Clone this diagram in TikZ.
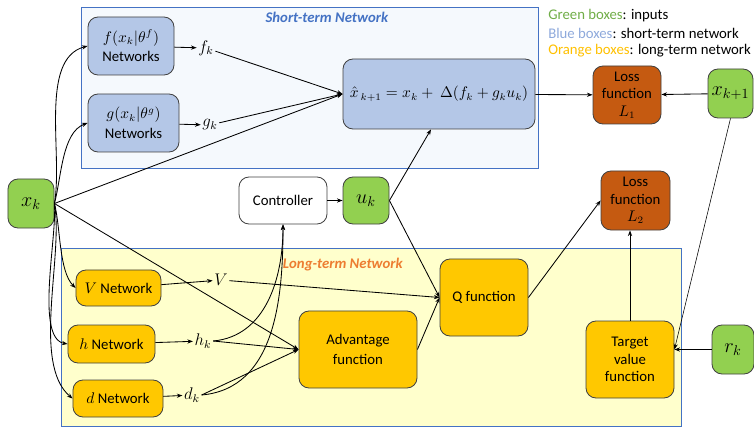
\documentclass[tikz,border=0pt]{standalone}
\usepackage{fontspec}
\setmainfont{Carlito}
\usetikzlibrary{arrows.meta}
\definecolor{boxgreen}{HTML}{92D050}
\definecolor{boxblue}{HTML}{B4C7E7}
\definecolor{boxgold}{HTML}{FFC800}
\definecolor{boxrust}{HTML}{C55A11}
\definecolor{frameblue}{HTML}{4472C4}
\definecolor{paleblue}{HTML}{F5F9FD}
\definecolor{paleyellow}{HTML}{FFFFCC}
\definecolor{labelorange}{HTML}{ED7D31}
\definecolor{keygreen}{HTML}{70AD47}
\definecolor{keyblue}{HTML}{8EA9DB}
\definecolor{keygold}{HTML}{FFC000}
\tikzset{
  box/.style={draw=black!75, rounded corners=2.5mm, align=center, inner sep=0pt, line width=0.6pt},
  inbox/.style={box, fill=boxgreen, font=\Large},
  stbox/.style={box, fill=boxblue},
  ltbox/.style={box, fill=boxgold},
  lossbox/.style={box, fill=boxrust, font=\fontsize{10.5}{12.5}\selectfont},
  var/.style={font=\large, inner sep=1pt},
  arr/.style={-{Stealth[length=4pt,width=3pt]}, line width=0.6pt}
}
\begin{document}
\begin{tikzpicture}[x=0.25mm, y=-0.25mm, font=\fontsize{10.5}{14}\selectfont]
  \useasboundingbox (0,0) rectangle (754,427);
  % network regions
  \draw[frameblue, fill=paleblue, line width=0.6pt] (81,7) rectangle (538,168);
  \draw[frameblue, fill=paleyellow, line width=0.6pt] (61,248) rectangle (681,426);
  \node (stlabel) at (327,17) {\textcolor{frameblue}{\textbf{\textit{Short-term Network}}}};
  \node (ltlabel) at (343,265) {\textcolor{labelorange}{\textbf{\textit{Long-term Network}}}};
  % legend
  \node[anchor=west, inner sep=0pt] (key1) at (548,16) {\textcolor{keygreen}{Green boxes}: inputs};
  \node[anchor=west, inner sep=0pt] (key2) at (548,33) {\textcolor{keyblue}{Blue boxes}: short-term network};
  \node[anchor=west, inner sep=0pt] (key3) at (548,51) {\textcolor{keygold}{Orange boxes}: long-term network};
  % inputs
  \node[inbox, minimum width=11.5mm, minimum height=12.25mm] (xk) at (31,203.5) {$x_k$};
  \node[inbox, minimum width=11.25mm, minimum height=12.25mm] (xk1) at (730.5,93.5) {$x_{k+1}$};
  \node[inbox, minimum width=11.5mm, minimum height=11.75mm] (uk) at (366,200.5) {$u_k$};
  \node[inbox, minimum width=10.5mm, minimum height=12.25mm] (rk) at (733,349.5) {$r_k$};
  % short-term
  \node[stbox, minimum width=21.5mm, minimum height=14.5mm] (fnet) at (131,46) {$f(x_k|\theta^f)$\\Networks};
  \node[stbox, minimum width=22.75mm, minimum height=14.5mm] (gnet) at (133.5,123) {$g(x_k|\theta^g)$\\Networks};
  \node[stbox, minimum width=48mm, minimum height=17.5mm] (xhat) at (439,94) {$\hat{x}_{\,k+1} = x_k +\ \Delta(f_k + g_k u_k)$};
  \node[var] (fk) at (206,48) {$f_k$};
  \node[var] (gk) at (210,125) {$g_k$};
  % controller and losses
  \node[box, fill=white, minimum width=22mm, minimum height=11.75mm] (ctrl) at (283,200.5) {Controller};
  \node[lossbox, minimum width=17mm, minimum height=14.5mm] (loss1) at (627,95) {Loss\\function\\$L_1$};
  \node[lossbox, minimum width=17.25mm, minimum height=14.75mm] (loss2) at (635.5,200.5) {Loss\\function\\$L_2$};
  % long-term
  \node[ltbox, minimum width=21.25mm, minimum height=9mm] (vnet) at (118.5,288) {$V$ Network};
  \node[ltbox, minimum width=21.75mm, minimum height=9.5mm] (hnet) at (111.5,344) {$h$ Network};
  \node[ltbox, minimum width=22.5mm, minimum height=9.25mm] (dnet) at (118,398.5) {$d$ Network};
  \node[var] (V) at (221,280) {$V$};
  \node[var] (hk) at (203,341) {$h_k$};
  \node[var] (dk) at (192,395) {$d_k$};
  \node[ltbox, minimum width=29.5mm, minimum height=19.25mm] (adv) at (358,349.5) {Advantage\\function};
  \node[ltbox, minimum width=22mm, minimum height=19.25mm] (qfun) at (484,297.5) {Q function};
  \node[ltbox, minimum width=22mm, minimum height=19.25mm, font=\fontsize{10.5}{12.5}\selectfont] (tvf) at (630,359.5) {Target\\value\\function};
  % connectors
  \draw[arr] (xk.east) to[out=80, in=195, looseness=0.8] (fnet.west);
  \draw[arr] (xk.east) to[out=75, in=200, looseness=0.8] (gnet.west);
  \draw[arr] (xk.east) -- (xhat.west);
  \draw[arr] (xk.east) to[out=-75, in=135, looseness=0.7] (vnet.west);
  \draw[arr] (xk.east) to[out=-85, in=170, looseness=0.6] (hnet.west);
  \draw[arr] (xk.east) to[out=-80, in=140, looseness=0.7] (dnet.west);
  \draw[arr] (xk.east) -- (adv.west);
  \draw[arr] (fnet) -- (fk);
  \draw[arr] (gnet) -- (gk);
  \draw[arr] (fk) -- (xhat.west);
  \draw[arr] (gk) -- (xhat.west);
  \draw[arr] (vnet) -- (V);
  \draw[arr] (hnet) -- (hk);
  \draw[arr] (dnet) -- (dk);
  \draw[arr] (V) -- (qfun.west);
  \draw[arr] (hk.east) to[out=5, in=-90] (ctrl.south);
  \draw[arr] (dk.east) to[out=5, in=-90] (ctrl.south);
  \draw[arr] (hk.east) -- (adv.west);
  \draw[arr] (dk.east) -- (adv.west);
  \draw[arr] (ctrl) -- (uk);
  \draw[arr] (uk.east) -- ([xshift=-2mm]xhat.south);
  \draw[arr] (uk.east) -- (qfun.west);
  \draw[arr] (adv.east) -- (qfun.west);
  \draw[arr] (qfun.east) -- (loss2.west);
  \draw[arr] (tvf.north) -- (tvf.north |- loss2.south);
  \draw[arr] (rk.west) -- (rk.west -| tvf.east);
  \draw[arr, line width=0.4pt] (xk1.south) -- ([yshift=2.5mm]tvf.east);
  \draw[arr] (xhat) -- (loss1);
  \draw[arr] (xk1) -- (loss1);
\end{tikzpicture}
\end{document}
